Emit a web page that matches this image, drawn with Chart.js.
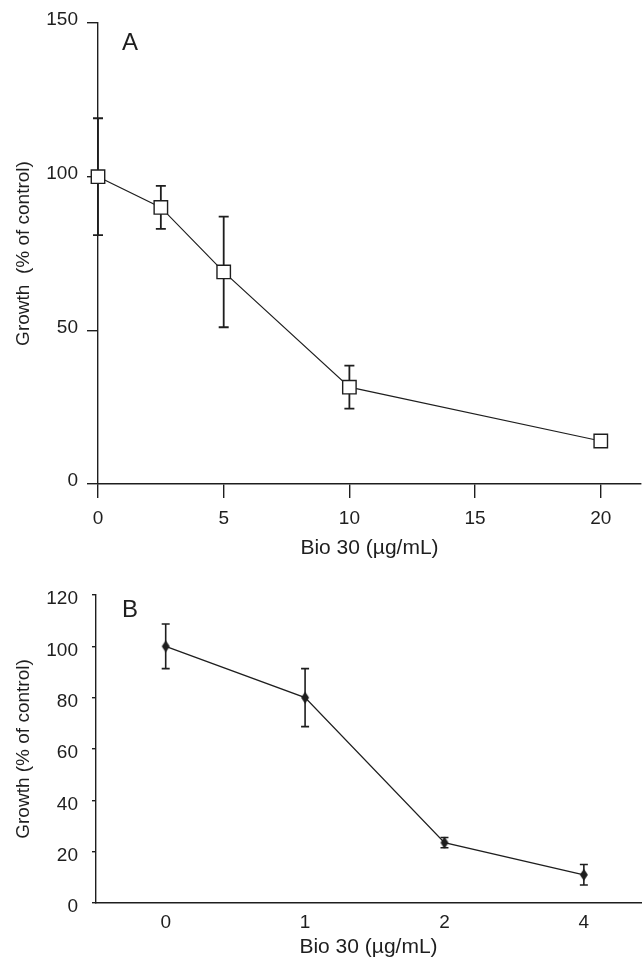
<!DOCTYPE html>
<html>
<head>
<meta charset="utf-8">
<script src="https://cdn.jsdelivr.net/npm/chart.js@4"></script>
<style>
  body { margin: 0; background: #fff; }
  #wrapA { position: absolute; left: 0; top: 0; width: 642px; height: 568px; }
  #wrapB { position: absolute; left: 0; top: 568px; width: 642px; height: 393px; }
</style>
</head>
<body>
<div id="wrapA"><canvas id="chartA" width="642" height="568"></canvas></div>
<div id="wrapB"><canvas id="chartB" width="642" height="393"></canvas></div>
<script>
// panel A: continuous dose axis
const doseA = [0, 2.5, 5, 10, 20];
const growthA = [100, 90, 69, 31.5, 14];
const errA = [19, 7, 18, 7, 1];
const ticksXA = [0, 5, 10, 15, 20];
const ticksYA = [0, 50, 100, 150];

// panel B: evenly spaced doses
const doseB = ['0', '1', '2', '4'];
const growthB = [100, 80, 23.5, 11];
const errB = [8.7, 11.3, 2, 4];
const ticksYB = [0, 20, 40, 60, 80, 100, 120];

const ink = '#1e1e1e';
Chart.defaults.font.family = "'Liberation Sans', Arial, sans-serif";
Chart.defaults.font.size = 19;
Chart.defaults.color = ink;

// vertical error bars with caps, drawn under the line and markers
const errorBars = {
  id: 'errorBars',
  beforeDatasetsDraw(chart, args, opts) {
    const { ctx } = chart;
    const y = chart.scales.y;
    const meta = chart.getDatasetMeta(0);
    const vals = chart.data.datasets[0].data;
    ctx.save();
    ctx.strokeStyle = ink;
    ctx.lineWidth = opts.width;
    meta.data.forEach((pt, i) => {
      const v = vals[i].y;
      const top = y.getPixelForValue(v + opts.errors[i]);
      const bot = y.getPixelForValue(v - opts.errors[i]);
      const w = opts.cap / 2;
      ctx.beginPath();
      ctx.moveTo(pt.x, top); ctx.lineTo(pt.x, bot);
      ctx.moveTo(pt.x - w, top); ctx.lineTo(pt.x + w, top);
      ctx.moveTo(pt.x - w, bot); ctx.lineTo(pt.x + w, bot);
      ctx.stroke();
    });
    ctx.restore();
  }
};

// panel letter in the upper left of the plot
const panelLetter = {
  id: 'panelLetter',
  afterDraw(chart, args, opts) {
    const { ctx, chartArea } = chart;
    ctx.save();
    ctx.fillStyle = ink;
    ctx.font = "24px 'Liberation Sans', Arial, sans-serif";
    ctx.textAlign = 'center';
    ctx.textBaseline = 'middle';
    ctx.fillText(opts.text, chartArea.left + opts.dx, chartArea.top + opts.dy);
    ctx.restore();
  }
};

const diamond = document.createElement('canvas');
diamond.width = 10;
diamond.height = 14;
const dctx = diamond.getContext('2d');
dctx.fillStyle = ink;
dctx.beginPath();
dctx.moveTo(5, 1); dctx.lineTo(9, 7); dctx.lineTo(5, 13); dctx.lineTo(1, 7);
dctx.closePath();
dctx.fill();

const setTicks = (vals) => (s) => { s.ticks = vals.map(v => ({ value: v })); };
const fixWidth = (w) => (s) => { s.width = w; };
// fixed height, and no side padding reserved for the end labels
const fixHeight = (h) => (s) => { s.height = h; s.paddingLeft = 0; s.paddingRight = 0; };

new Chart(document.getElementById('chartA'), {
  type: 'line',
  data: {
    datasets: [{
      data: doseA.map((d, i) => ({ x: d, y: growthA[i] })),
      borderColor: ink,
      borderWidth: 1.2,
      pointStyle: 'rect',
      pointRadius: 9.5,
      pointBackgroundColor: '#fff',
      pointBorderColor: ink,
      pointBorderWidth: 1.4,
      clip: false
    }]
  },
  options: {
    responsive: false,
    animation: false,
    layout: { autoPadding: false, padding: { top: 23, right: 1, left: 0, bottom: 0 } },
    plugins: {
      legend: { display: false },
      tooltip: { enabled: false },
      errorBars: { errors: errA, cap: 10, width: 1.8 },
      panelLetter: { text: 'A', dx: 32, dy: 20 }
    },
    scales: {
      x: {
        type: 'linear', min: 0, max: 21.6,
        afterBuildTicks: setTicks(ticksXA),
        afterFit: fixHeight(84),
        grid: { drawOnChartArea: false, tickLength: 14, color: ink, lineWidth: 1.4 },
        border: { color: ink, width: 1.4 },
        ticks: { padding: 9 },
        title: { display: true, text: 'Bio 30 (µg/mL)', font: { size: 21 }, padding: { top: 0, bottom: 7 } }
      },
      y: {
        min: 0, max: 150,
        afterBuildTicks: setTicks(ticksYA),
        afterFit: fixWidth(98),
        grid: { drawOnChartArea: false, tickLength: 11, color: ink, lineWidth: 1.4 },
        border: { color: ink, width: 1.4 },
        ticks: { padding: 9, labelOffset: -3 },
        title: { display: true, text: 'Growth  (% of control)', padding: { top: 12, bottom: 0 } }
      }
    }
  },
  plugins: [errorBars, panelLetter]
});

new Chart(document.getElementById('chartB'), {
  type: 'line',
  data: {
    datasets: [{
      data: doseB.map((d, i) => ({ x: i, y: growthB[i] })),
      borderColor: ink,
      borderWidth: 1.3,
      pointStyle: diamond,
      clip: false
    }]
  },
  options: {
    responsive: false,
    animation: false,
    layout: { autoPadding: false, padding: { top: 27, right: 1, left: 0, bottom: 0 } },
    plugins: {
      legend: { display: false },
      tooltip: { enabled: false },
      errorBars: { errors: errB, cap: 8, width: 1.6 },
      panelLetter: { text: 'B', dx: 34, dy: 15 }
    },
    scales: {
      x: {
        type: 'linear', min: -0.5, max: 3.41,
        afterBuildTicks: setTicks(doseB.map((d, i) => i)),
        afterFit: fixHeight(58),
        grid: { drawOnChartArea: false, drawTicks: false },
        border: { color: ink, width: 1.4 },
        ticks: { padding: 8, callback: (v) => doseB[v] },
        title: { display: true, text: 'Bio 30 (µg/mL)', font: { size: 21 }, padding: { top: 0, bottom: 1 } }
      },
      y: {
        min: 0, max: 120,
        afterBuildTicks: setTicks(ticksYB),
        afterFit: fixWidth(96),
        grid: { drawOnChartArea: false, tickLength: 4, color: ink, lineWidth: 1.4 },
        border: { color: ink, width: 1.4 },
        ticks: { padding: 14, labelOffset: 4 },
        title: { display: true, text: 'Growth (% of control)', padding: { top: 12, bottom: 0 } }
      }
    }
  },
  plugins: [errorBars, panelLetter]
});
</script>
</body>
</html>
